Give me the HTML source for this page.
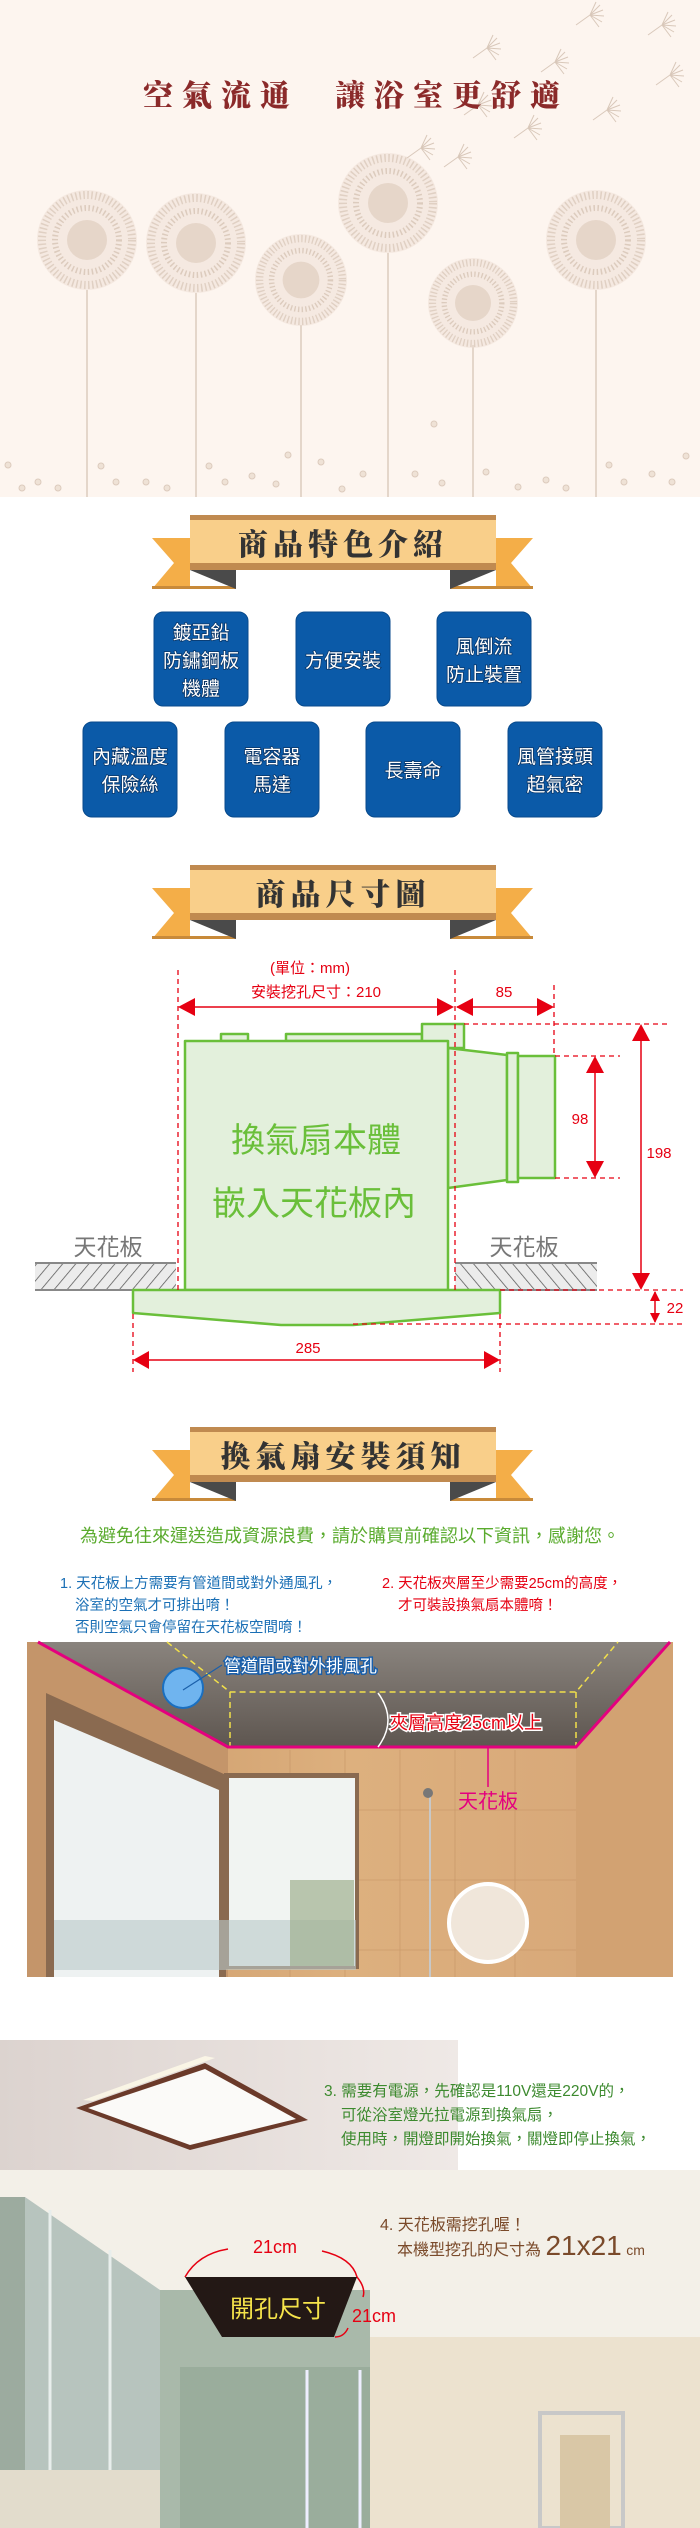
<!DOCTYPE html>
<html><head><meta charset="utf-8">
<style>
html,body{margin:0;padding:0;background:#fff;}
body{width:700px;height:2528px;overflow:hidden;}
svg{display:block;}
.s{font-family:"Liberation Sans","Noto Sans CJK TC",sans-serif;}
.b{font-family:"Liberation Serif","Noto Serif CJK SC",serif;font-weight:900;}
</style></head><body>
<svg width="700" height="2528" viewBox="0 0 700 2528" xmlns="http://www.w3.org/2000/svg">
<defs>
<g id="ribbon">
  <polygon points="152,23 190,23 190,74 236,74 236,74 152,74 174,48" fill="#f4ae48"/>
  <polygon points="152,71 236,71 236,74 152,74" fill="#c88a3a"/>
  <polygon points="533,23 496,23 496,74 450,74 533,74 511,48" fill="#f4ae48"/>
  <polygon points="450,71 533,71 533,74 450,74" fill="#c88a3a"/>
  <polygon points="190,55 236,55 236,74" fill="#4a4a4a"/>
  <polygon points="496,55 450,55 450,74" fill="#4a4a4a"/>
  <rect x="190" y="0" width="306" height="55" fill="#f9cf8a"/>
  <rect x="190" y="0" width="306" height="5" fill="#c08a50"/>
  <rect x="190" y="48" width="306" height="7" fill="#c08a50"/>
</g>
<pattern id="hatch" width="10" height="10" patternUnits="userSpaceOnUse" patternTransform="rotate(40)">
  <rect width="10" height="10" fill="#ececec"/><line x1="0" y1="0" x2="0" y2="10" stroke="#555" stroke-width="1.5"/>
</pattern>
<pattern id="hatch2" width="10" height="10" patternUnits="userSpaceOnUse" patternTransform="rotate(-40)">
  <rect width="10" height="10" fill="#ececec"/><line x1="0" y1="0" x2="0" y2="10" stroke="#555" stroke-width="1.5"/>
</pattern>
<g id="dand">
  <circle r="50" fill="#eadbd0" opacity="0.45"/>
  <circle r="45" fill="none" stroke="#e0d0c3" stroke-width="8" stroke-dasharray="1.5 2.5"/>
  <circle r="32" fill="none" stroke="#dccbbd" stroke-width="6" stroke-dasharray="1.5 2.5"/>
  <circle r="20" fill="#e6d6c9"/>
</g>
<g id="seed" stroke="#d9c8ba" stroke-width="1" fill="none">
  <line x1="-14" y1="10" x2="0" y2="0"/>
  <path d="M0,0 l10,-10 M0,0 l13,-5 M0,0 l14,1 M0,0 l12,7 M0,0 l6,-13 M0,0 l9,12"/>
</g>
<linearGradient id="ceil" x1="0" y1="0" x2="0" y2="1"><stop offset="0" stop-color="#8a847e"/><stop offset="1" stop-color="#5e5650"/></linearGradient>
<linearGradient id="wall" x1="0" y1="0" x2="1" y2="0"><stop offset="0" stop-color="#c99868"/><stop offset="0.5" stop-color="#ddb07e"/><stop offset="1" stop-color="#d6a678"/></linearGradient>
<linearGradient id="lampbg" x1="0" y1="0" x2="1" y2="0"><stop offset="0" stop-color="#dcd3cf"/><stop offset="1" stop-color="#efe9e6"/></linearGradient>
</defs>

<!-- HERO -->
<rect x="0" y="0" width="700" height="497" fill="#fdf5ef"/>
<g stroke="#dccbbd" stroke-width="1.5">
  <line x1="87" y1="290" x2="87" y2="497"/><line x1="196" y1="293" x2="196" y2="497"/>
  <line x1="301" y1="325" x2="301" y2="497"/><line x1="388" y1="253" x2="388" y2="497"/>
  <line x1="473" y1="345" x2="473" y2="497"/><line x1="596" y1="290" x2="596" y2="497"/>
</g>
<use href="#dand" x="87" y="240"/><use href="#dand" x="196" y="243"/>
<use href="#dand" x="301" y="280" transform="translate(301 280) scale(0.92) translate(-301 -280)"/>
<use href="#dand" x="388" y="203"/>
<use href="#dand" x="473" y="303" transform="translate(473 303) scale(0.9) translate(-473 -303)"/>
<use href="#dand" x="596" y="240"/>
<use href="#seed" x="590" y="15"/><use href="#seed" x="662" y="25"/><use href="#seed" x="487" y="48"/>
<use href="#seed" x="555" y="62"/><use href="#seed" x="670" y="75"/><use href="#seed" x="478" y="105"/>
<use href="#seed" x="607" y="110"/><use href="#seed" x="528" y="128"/><use href="#seed" x="421" y="148"/><use href="#seed" x="458" y="157"/>
<g fill="#efe2d6" stroke="#dccbbd">
  <circle cx="8" cy="465" r="3"/><circle cx="38" cy="482" r="3"/><circle cx="22" cy="488" r="3"/><circle cx="58" cy="488" r="3"/>
  <circle cx="101" cy="466" r="3"/><circle cx="116" cy="482" r="3"/><circle cx="146" cy="482" r="3"/><circle cx="167" cy="488" r="3"/>
  <circle cx="209" cy="466" r="3"/><circle cx="225" cy="482" r="3"/><circle cx="252" cy="476" r="3"/><circle cx="276" cy="484" r="3"/>
  <circle cx="288" cy="455" r="3"/><circle cx="321" cy="462" r="3"/><circle cx="342" cy="489" r="3"/><circle cx="363" cy="474" r="3"/>
  <circle cx="415" cy="474" r="3"/><circle cx="434" cy="424" r="3"/><circle cx="442" cy="483" r="3"/><circle cx="486" cy="472" r="3"/>
  <circle cx="518" cy="487" r="3"/><circle cx="546" cy="480" r="3"/><circle cx="566" cy="488" r="3"/><circle cx="609" cy="465" r="3"/>
  <circle cx="624" cy="482" r="3"/><circle cx="652" cy="474" r="3"/><circle cx="672" cy="482" r="3"/><circle cx="686" cy="456" r="3"/>
</g>
<text x="143" y="106" class="b" font-size="30" fill="#8b2a2a" font-weight="400" letter-spacing="9">空氣流通</text>
<text x="335" y="106" class="b" font-size="30" fill="#8b2a2a" font-weight="400" letter-spacing="9">讓浴室更舒適</text>

<!-- BANNER 1 -->
<use href="#ribbon" y="515"/>
<text x="343" y="555" class="b" font-size="30" fill="#333" text-anchor="middle" letter-spacing="5">商品特色介紹</text>

<!-- BLUE BOXES -->
<g fill="#0b5aa8" stroke="#084a8c" stroke-width="1">
  <rect x="154" y="612" width="94" height="94" rx="9"/><rect x="296" y="612" width="94" height="94" rx="9"/><rect x="437" y="612" width="94" height="94" rx="9"/>
  <rect x="83" y="722" width="94" height="95" rx="9"/><rect x="225" y="722" width="94" height="95" rx="9"/><rect x="366" y="722" width="94" height="95" rx="9"/><rect x="508" y="722" width="94" height="95" rx="9"/>
</g>
<g class="s" font-size="19" fill="#fff" text-anchor="middle" style="paint-order:stroke" stroke="#0a3566" stroke-width="1.5">
  <text x="201" y="639">鍍亞鉛</text><text x="201" y="667">防鏽鋼板</text><text x="201" y="695">機體</text>
  <text x="343" y="667">方便安裝</text>
  <text x="484" y="653">風倒流</text><text x="484" y="681">防止裝置</text>
  <text x="130" y="763">內藏溫度</text><text x="130" y="791">保險絲</text>
  <text x="272" y="763">電容器</text><text x="272" y="791">馬達</text>
  <text x="413" y="777">長壽命</text>
  <text x="555" y="763">風管接頭</text><text x="555" y="791">超氣密</text>
</g>

<!-- BANNER 2 -->
<use href="#ribbon" y="865"/>
<text x="343" y="905" class="b" font-size="30" fill="#333" text-anchor="middle" letter-spacing="5">商品尺寸圖</text>

<!-- DIMENSION DIAGRAM -->
<rect x="35" y="1263" width="141" height="27" fill="url(#hatch)"/>
<rect x="455" y="1263" width="142" height="27" fill="url(#hatch2)"/>
<g stroke="#888" stroke-width="2"><line x1="35" y1="1263" x2="176" y2="1263"/><line x1="35" y1="1290" x2="176" y2="1290"/><line x1="455" y1="1263" x2="597" y2="1263"/><line x1="455" y1="1290" x2="597" y2="1290"/></g>
<g fill="#e3f0dc" stroke="#6abf3a" stroke-width="2.5" stroke-linejoin="round">
  <rect x="221" y="1034" width="27" height="7"/>
  <rect x="286" y="1034" width="136" height="7"/>
  <rect x="422" y="1024" width="42" height="24"/>
  <polygon points="448,1048 507,1055 507,1180 448,1188"/>
  <rect x="507" y="1053" width="11" height="129"/>
  <rect x="518" y="1056" width="37" height="122"/>
  <rect x="185" y="1041" width="263" height="249"/>
  <polygon points="133,1290 500,1290 500,1313 353,1325 281,1325 133,1313"/>
</g>
<text x="316" y="1152" class="s" font-size="34" fill="#6abf3a" text-anchor="middle">換氣扇本體</text>
<text x="314" y="1215" class="s" font-size="34" fill="#6abf3a" text-anchor="middle">嵌入天花板內</text>
<text x="108" y="1255" class="s" font-size="23" fill="#777" text-anchor="middle">天花板</text>
<text x="524" y="1255" class="s" font-size="23" fill="#777" text-anchor="middle">天花板</text>
<g stroke="#e60012" stroke-width="1.3" stroke-dasharray="5 4" fill="none">
  <line x1="178" y1="970" x2="178" y2="1290"/><line x1="455" y1="970" x2="455" y2="1290"/><line x1="554" y1="985" x2="554" y2="1056"/>
  <line x1="464" y1="1024" x2="668" y2="1024"/>
  <line x1="555" y1="1056" x2="620" y2="1056"/><line x1="555" y1="1178" x2="620" y2="1178"/>
  <line x1="500" y1="1290" x2="683" y2="1290"/><line x1="353" y1="1324" x2="683" y2="1324"/>
  <line x1="133" y1="1314" x2="133" y2="1372"/><line x1="500" y1="1314" x2="500" y2="1372"/>
</g>
<g stroke="#e60012" stroke-width="1.5">
  <line x1="180" y1="1007" x2="452" y2="1007"/><line x1="457" y1="1007" x2="552" y2="1007"/>
  <line x1="595" y1="1058" x2="595" y2="1176"/><line x1="641" y1="1026" x2="641" y2="1288"/>
  <line x1="655" y1="1292" x2="655" y2="1322"/><line x1="135" y1="1360" x2="498" y2="1360"/>
</g>
<g fill="#e60012">
  <polygon points="178,1007 195,998 195,1016"/><polygon points="454,1007 437,998 437,1016"/>
  <polygon points="456,1007 473,998 473,1016"/><polygon points="554,1007 537,998 537,1016"/>
  <polygon points="595,1056 586,1073 604,1073"/><polygon points="595,1178 586,1161 604,1161"/>
  <polygon points="641,1024 632,1041 650,1041"/><polygon points="641,1290 632,1273 650,1273"/>
  <polygon points="655,1291 650,1301 660,1301"/><polygon points="655,1323 650,1313 660,1313"/>
  <polygon points="133,1360 149,1351 149,1369"/><polygon points="500,1360 484,1351 484,1369"/>
</g>
<g class="s" font-size="15" fill="#e60012" text-anchor="middle">
  <text x="310" y="973">(單位：mm)</text>
  <text x="316" y="997">安裝挖孔尺寸：210</text>
  <text x="504" y="997">85</text>
  <text x="580" y="1124">98</text>
  <text x="659" y="1158">198</text>
  <text x="675" y="1313">22</text>
  <text x="308" y="1353">285</text>
</g>

<!-- BANNER 3 -->
<use href="#ribbon" y="1427"/>
<text x="343" y="1467" class="b" font-size="30" fill="#333" text-anchor="middle" letter-spacing="5">換氣扇安裝須知</text>

<text x="350" y="1542" class="s" font-size="18" fill="#5aab2e" text-anchor="middle">為避免往來運送造成資源浪費，請於購買前確認以下資訊，感謝您。</text>
<g class="s" font-size="14.5" fill="#1a6fb5">
  <text x="60" y="1588">1. 天花板上方需要有管道間或對外通風孔，</text>
  <text x="75" y="1610">浴室的空氣才可排出唷！</text>
  <text x="75" y="1632">否則空氣只會停留在天花板空間唷！</text>
</g>
<g class="s" font-size="14.5" fill="#e60012">
  <text x="382" y="1588">2. 天花板夾層至少需要25cm的高度，</text>
  <text x="398" y="1610">才可裝設換氣扇本體唷！</text>
</g>

<!-- BATHROOM PHOTO 1 -->
<rect x="27" y="1642" width="646" height="335" fill="url(#wall)"/>
<polygon points="38,1642 670,1642 576,1747 228,1747" fill="url(#ceil)"/>
<polygon points="27,1642 38,1642 228,1747 228,1977 27,1977" fill="#c4956a"/>
<polygon points="576,1747 670,1642 673,1642 673,1977 576,1977" fill="#d2a272"/>
<g stroke="#c08e60" stroke-width="0.8" opacity="0.6">
  <line x1="290" y1="1750" x2="290" y2="1977"/><line x1="345" y1="1750" x2="345" y2="1977"/><line x1="400" y1="1750" x2="400" y2="1977"/><line x1="455" y1="1750" x2="455" y2="1977"/><line x1="515" y1="1750" x2="515" y2="1977"/>
  <line x1="228" y1="1810" x2="576" y2="1810"/><line x1="228" y1="1880" x2="576" y2="1880"/><line x1="228" y1="1950" x2="576" y2="1950"/>
</g>
<polygon points="46,1693 226,1775 226,1977 46,1977" fill="#8a6a50"/>
<polygon points="54,1720 219,1790 219,1977 54,1977" fill="#eef2f2"/>
<rect x="224" y="1773" width="135" height="196" fill="#8a6a50"/>
<rect x="229" y="1778" width="126" height="188" fill="#f1f4f2"/>
<rect x="54" y="1920" width="302" height="50" fill="#b9c8c8" opacity="0.6"/>
<rect x="290" y="1880" width="64" height="86" fill="#9fb090" opacity="0.7"/>
<circle cx="488" cy="1923" r="39" fill="#f0e6da" stroke="#fff" stroke-width="4"/>
<line x1="430" y1="1790" x2="430" y2="1977" stroke="#c8c8c8" stroke-width="2"/>
<circle cx="428" cy="1793" r="5" fill="#777"/>
<polyline points="167,1642 230,1692 576,1692 618,1642" fill="none" stroke="#f2e04a" stroke-width="1.5" stroke-dasharray="6 4"/>
<line x1="230" y1="1692" x2="230" y2="1747" stroke="#f2e04a" stroke-width="1.5" stroke-dasharray="6 4"/>
<line x1="576" y1="1692" x2="576" y2="1747" stroke="#f2e04a" stroke-width="1.5" stroke-dasharray="6 4"/>
<polyline points="38,1642 228,1747 576,1747 670,1642" fill="none" stroke="#e4007f" stroke-width="3"/>
<line x1="488" y1="1747" x2="488" y2="1787" stroke="#e4007f" stroke-width="1.5"/>
<path d="M378,1693 Q398,1720 378,1747" fill="none" stroke="#fff" stroke-width="1.5"/>
<circle cx="183" cy="1688" r="20" fill="#6fb4ef" stroke="#1a6fc0" stroke-width="2"/>
<line x1="183" y1="1690" x2="222" y2="1665" stroke="#1a5faa" stroke-width="1.2"/>
<text x="224" y="1672" class="s" font-size="17" fill="#fff" stroke="#1a5faa" stroke-width="3" style="paint-order:stroke">管道間或對外排風孔</text>
<text x="390" y="1729" class="s" font-size="18" fill="#e60012" stroke="#fff" stroke-width="3" style="paint-order:stroke">夾層高度25cm以上</text>
<text x="488" y="1808" class="s" font-size="20" fill="#e4007f" text-anchor="middle">天花板</text>

<!-- LAMP PHOTO -->
<rect x="0" y="2040" width="458" height="130" fill="url(#lampbg)"/>
<polygon points="76,2108 205,2063 308,2120 190,2150" fill="#6b3a2a"/>
<polygon points="88,2108 205,2069 296,2119 190,2145" fill="#fbfaf8"/>
<polygon points="83,2100 205,2056 215,2058 93,2101" fill="#fffbe8" opacity="0.8"/>
<g class="s" font-size="15.5" fill="#3d8a2f">
  <text x="324" y="2096">3. 需要有電源，先確認是110V還是220V的，</text>
  <text x="341" y="2120">可從浴室燈光拉電源到換氣扇，</text>
  <text x="341" y="2144">使用時，開燈即開始換氣，關燈即停止換氣，</text>
</g>

<!-- BATHROOM PHOTO 2 -->
<rect x="0" y="2170" width="700" height="358" fill="#f3f0e8"/>
<rect x="370" y="2337" width="330" height="191" fill="#ece2cf"/>
<polygon points="0,2197 25,2197 160,2290 160,2528 0,2528" fill="#b7c4be"/>
<rect x="0" y="2197" width="25" height="331" fill="#9cab9f"/>
<line x1="50" y1="2210" x2="50" y2="2470" stroke="#e8eeec" stroke-width="3"/>
<line x1="110" y1="2250" x2="110" y2="2480" stroke="#e8eeec" stroke-width="3"/>
<rect x="0" y="2470" width="160" height="58" fill="#e2dccc"/>
<rect x="160" y="2290" width="210" height="238" fill="#a9b9aa"/>
<rect x="180" y="2367" width="190" height="161" fill="#9aad9c"/>
<line x1="307" y1="2370" x2="307" y2="2528" stroke="#eef" stroke-width="3"/>
<line x1="360" y1="2370" x2="360" y2="2528" stroke="#eef" stroke-width="3"/>
<rect x="540" y="2413" width="83" height="115" fill="none" stroke="#c8c8c8" stroke-width="4"/>
<rect x="560" y="2435" width="50" height="93" fill="#d9c7a6"/>
<path d="M185,2277 Q198,2254 228,2249" fill="none" stroke="#e60012" stroke-width="1.5"/>
<path d="M322,2251 Q352,2258 357,2277 Q366,2288 363,2297" fill="none" stroke="#e60012" stroke-width="1.5"/>
<path d="M348,2328 Q344,2337 335,2337" fill="none" stroke="#e60012" stroke-width="1.5"/>
<polygon points="185,2277 357,2277 334,2337 222,2337" fill="#231815"/>
<text x="278" y="2317" class="s" font-size="24" fill="#f5e34a" text-anchor="middle">開孔尺寸</text>
<text x="275" y="2253" class="s" font-size="18" fill="#e60012" text-anchor="middle">21cm</text>
<text x="374" y="2322" class="s" font-size="18" fill="#e60012" text-anchor="middle">21cm</text>
<g class="s" fill="#7a4a2a">
  <text x="380" y="2230" font-size="16">4. 天花板需挖孔喔！</text>
  <text x="397" y="2255" font-size="16">本機型挖孔的尺寸為 <tspan font-size="28">21x21</tspan> <tspan font-size="14">cm</tspan></text>
</g>
</svg>
</body></html>
